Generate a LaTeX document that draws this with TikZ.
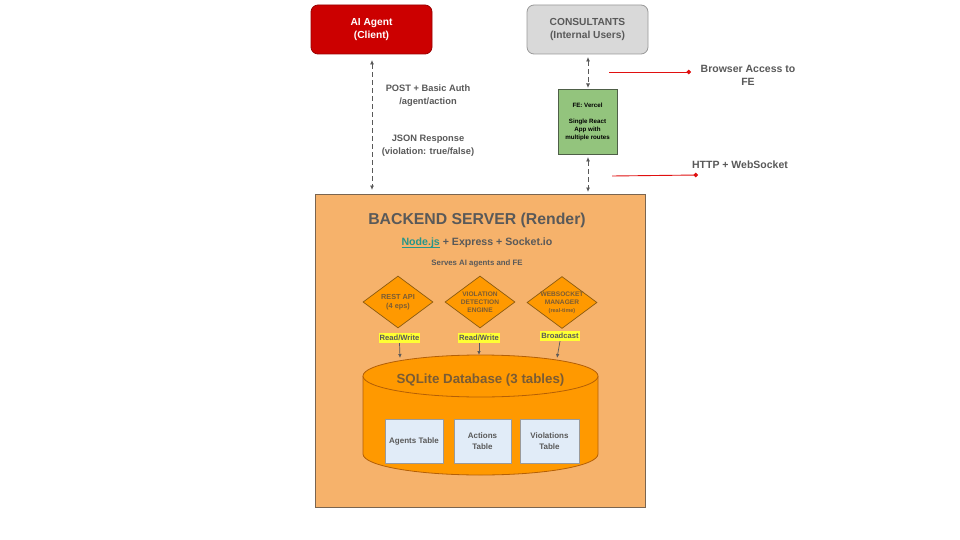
\documentclass[tikz,border=0pt]{standalone}
\usepackage{fontspec}
\setmainfont{Liberation Sans}
\usetikzlibrary{shapes.geometric,arrows.meta}
\definecolor{agentred}{HTML}{CC0000}
\definecolor{agentborder}{HTML}{990000}
\definecolor{consgray}{HTML}{D9D9D9}
\definecolor{consborder}{HTML}{999999}
\definecolor{txtgray}{HTML}{595959}
\definecolor{fegreen}{HTML}{93C47D}
\definecolor{feborder}{HTML}{4E5F47}
\definecolor{backfill}{HTML}{F6B26B}
\definecolor{backborder}{HTML}{7A6550}
\definecolor{dorange}{HTML}{FF9900}
\definecolor{dborder}{HTML}{8A5A10}
\definecolor{dtext}{HTML}{7A5C35}
\definecolor{cylborder}{HTML}{B45F06}
\definecolor{tabfill}{HTML}{E1ECF8}
\definecolor{tabborder}{HTML}{9A9A9A}
\definecolor{linkteal}{HTML}{26968A}
\definecolor{linered}{HTML}{E01010}
\definecolor{hlyellow}{HTML}{FFFF33}
\newcommand\linkul[1]{{\color{linkteal}\setbox0\hbox{#1}\rlap{\rule[-1.8pt]{\wd0}{0.7pt}}\box0}}
\begin{document}
\begin{tikzpicture}[x=1pt,y=-1pt,font=\bfseries,
  topbox/.style={draw,rounded corners=7pt,line width=0.8pt,align=center,minimum width=121pt,minimum height=49pt,inner sep=0pt,font=\fontsize{10.2}{13}\selectfont\bfseries},
  lbl/.style={text=txtgray,align=center,font=\fontsize{9.3}{13}\selectfont\bfseries},
  dasharrow/.style={draw=txtgray,line width=0.8pt,dash pattern=on 5pt off 3pt,{Latex[length=4.5pt,width=4pt]}-{Latex[length=4.5pt,width=4pt]}},
  redline/.style={draw=linered,line width=0.9pt,-{Circle[length=4.5pt]}},
  dia/.style={diamond,draw=dborder,fill=dorange,line width=0.7pt,minimum width=70pt,minimum height=52pt,inner sep=0pt},
  diatext/.style={align=center,text=dtext,inner sep=0pt},
  hl/.style={fill=hlyellow,text=txtgray,inner sep=1pt,minimum height=10pt,font=\fontsize{7.6}{8}\selectfont\bfseries},
  tabbox/.style={draw=tabborder,fill=tabfill,line width=0.6pt,minimum height=44pt,align=center,inner sep=0pt,text=txtgray,font=\fontsize{8}{10.5}\selectfont\bfseries},
  solidarrow/.style={draw=txtgray,line width=0.7pt,-{Latex[length=4pt,width=3.5pt]}}]
\useasboundingbox[fill=white] (0,0) rectangle (960,540);

% top boxes
\node[topbox,fill=agentred,draw=agentborder,text=white] (agent) at (371.5,29.5) {AI Agent\\(Client)};
\node[topbox,fill=consgray,draw=consborder,text=txtgray] (cons) at (587.5,29.5) {CONSULTANTS\\(Internal Users)};

% FE box
\node[draw=feborder,fill=fegreen,line width=0.7pt,minimum width=59pt,minimum height=65pt,inner sep=0pt,align=center,font=\fontsize{6.2}{8}\selectfont\bfseries] (fe) at (587.5,121.5) {FE: Vercel\\[8pt]Single React\\App with\\multiple routes};

% backend
\node[draw=backborder,fill=backfill,line width=0.8pt,minimum width=330pt,minimum height=313pt] (backend) at (480,350.5) {};
\node[text=txtgray,font=\fontsize{15.8}{18}\selectfont\bfseries] (btitle) at (477,220) {BACKEND SERVER (Render)};
\node[text=txtgray,font=\fontsize{10.6}{12}\selectfont\bfseries] (bsub) at (477,243) {\linkul{Node.js} + Express + Socket.io};
\node[text=txtgray,font=\fontsize{7.8}{9}\selectfont\bfseries] (bserves) at (477,263) {Serves AI agents and FE};

% diamonds
\node[dia] (rest) at (398,302) {};
\node[diatext,font=\fontsize{7.3}{9}\selectfont\bfseries] (restt) at (rest.center) {REST API\\(4 eps)};
\node[dia] (viol) at (480,302) {};
\node[diatext,font=\fontsize{6.6}{8}\selectfont\bfseries] (violt) at (viol.center) {VIOLATION\\DETECTION\\ENGINE};
\node[dia] (ws) at (562,302.5) {};
\node[diatext,font=\fontsize{6.6}{8}\selectfont\bfseries] (wst) at (ws.center) {WEBSOCKET\\MANAGER\\{\fontsize{5.5}{6}\selectfont(real-time)}};

% highlight labels
\node[hl] (rw1) at (399.5,338) {Read/Write};
\node[hl] (rw2) at (479,338) {Read/Write};
\node[hl] (bc) at (560,336) {Broadcast};

% cylinder
\fill[dorange] (363,376) -- (363,454) arc[start angle=180,end angle=0,x radius=117.5,y radius=21] -- (598,376) -- cycle;
\draw[cylborder,line width=0.8pt] (363,376) -- (363,454) arc[start angle=180,end angle=0,x radius=117.5,y radius=21] -- (598,376);
\draw[cylborder,fill=dorange,line width=0.8pt] (480.5,376) ellipse[x radius=117.5,y radius=21];
\node[text=dtext,font=\fontsize{13.3}{16}\selectfont\bfseries] (dbtitle) at (480.5,380) {SQLite Database (3 tables)};
\coordinate (c1) at (400,358);
\coordinate (c2) at (479,355);
\coordinate (c3) at (557,358);

% tables
\node[tabbox,minimum width=58pt] (agents) at (414,441) {Agents Table};
\node[tabbox,minimum width=57pt] (actions) at (482.5,441) {Actions\\Table};
\node[tabbox,minimum width=59pt] (viols) at (549.5,441) {Violations\\Table};

% arrows to db
\draw[solidarrow] (rw1.south) -- (c1);
\draw[solidarrow] (rw2.south) -- (c2);
\draw[solidarrow] (bc.south) -- (c3);

% dashed connectors
\coordinate (a1) at (372,60);
\coordinate (a2) at (372,190);
\draw[dasharrow] (a1) -- (a2);
\coordinate (f1) at (588,57);
\coordinate (f2) at (588,88);
\draw[dasharrow] (f1) -- (f2);
\coordinate (f3) at (588,157);
\coordinate (f4) at (588,192);
\draw[dasharrow] (f3) -- (f4);

% labels
\node[lbl] (postlbl) at (428,96) {POST + Basic Auth\\/agent/action};
\node[lbl] (jsonlbl) at (428,145.5) {JSON Response\\(violation: true/false)};
\node[lbl,font=\fontsize{10.5}{13}\selectfont\bfseries] (browser) at (748,75.5) {Browser Access to\\FE};
\node[lbl,font=\fontsize{10.5}{13}\selectfont\bfseries] (http) at (740,165) {HTTP + WebSocket};

% red lines
\coordinate (r1a) at (609,72);
\coordinate (r1b) at (691,72);
\draw[redline] (r1a) -- (r1b);
\coordinate (r2a) at (612,176);
\coordinate (r2b) at (698,175);
\draw[redline] (r2a) -- (r2b);
\end{tikzpicture}
\end{document}
